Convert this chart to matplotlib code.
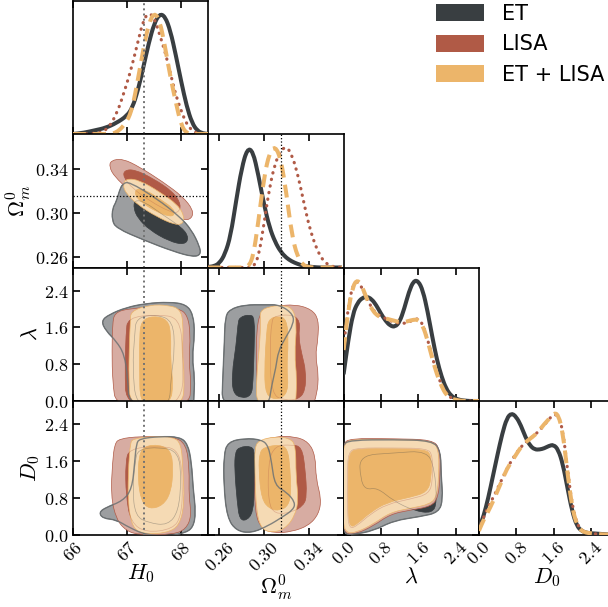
import numpy as np
import matplotlib.pyplot as plt
from matplotlib.path import Path
from matplotlib.patches import PathPatch, Patch
from matplotlib.ticker import FormatStrFormatter

plt.rc('mathtext', fontset='cm')
plt.rc('font', family='serif', serif=['DejaVu Serif'], size=13)

# ---------------- data ----------------
labels = ['ET', 'LISA', 'ET + LISA']
truth_h0 = 67.32
truth_om = 0.315

# 1D marginals (normalised to peak 1)
h0_x = [66.0, 66.2, 66.4, 66.6, 66.8, 67.0, 67.1, 67.2, 67.3, 67.4, 67.5,
        67.6, 67.7, 67.8, 67.9, 68.0, 68.1, 68.2, 68.3, 68.4, 68.5]
h0_et = [0.0, 0.01, 0.03, 0.05, 0.09, 0.15, 0.22, 0.36, 0.55, 0.75, 0.91,
         0.99, 0.97, 0.85, 0.65, 0.43, 0.23, 0.09, 0.025, 0.005, 0.0]
h0_lisa = [0.0, 0.0, 0.005, 0.02, 0.15, 0.42, 0.58, 0.76, 0.94, 1.0, 0.96,
           0.82, 0.68, 0.5, 0.32, 0.19, 0.08, 0.03, 0.005, 0.0, 0.0]
h0_etl = [0.0, 0.0, 0.0, 0.0, 0.005, 0.1, 0.22, 0.45, 0.70, 0.91, 1.0,
          0.94, 0.72, 0.47, 0.26, 0.07, 0.005, 0.0, 0.0, 0.0, 0.0]

om_x = [0.25, 0.255, 0.26, 0.265, 0.27, 0.275, 0.28, 0.285, 0.29, 0.295, 0.30,
        0.305, 0.31, 0.315, 0.32, 0.325, 0.33, 0.335, 0.34, 0.345, 0.35,
        0.355, 0.36, 0.365, 0.37]
om_et = [0.005, 0.01, 0.035, 0.11, 0.26, 0.55, 0.82, 0.98, 0.96, 0.76, 0.52,
         0.33, 0.21, 0.13, 0.08, 0.05, 0.03, 0.015, 0.008, 0.003, 0.0,
         0.0, 0.0, 0.0, 0.0]
om_lisa = [0.0, 0.0, 0.0, 0.0, 0.0, 0.0, 0.0, 0.0, 0.0, 0.08, 0.36,
           0.66, 0.86, 0.96, 1.0, 0.93, 0.78, 0.57, 0.36, 0.21, 0.1,
           0.04, 0.012, 0.003, 0.0]
om_etl = [0.0, 0.0, 0.0, 0.0, 0.0, 0.0, 0.0, 0.0, 0.07, 0.38, 0.74,
          0.95, 1.0, 0.9, 0.62, 0.27, 0.09, 0.02, 0.003, 0.0, 0.0,
          0.0, 0.0, 0.0, 0.0]

lam_x = [0.0, 0.1, 0.2, 0.3, 0.4, 0.5, 0.6, 0.7, 0.8, 0.9, 1.0, 1.1, 1.2, 1.3, 1.4,
         1.5, 1.6, 1.7, 1.8, 1.9, 2.0, 2.1, 2.2, 2.3, 2.4, 2.5, 2.6, 2.7, 2.8, 2.9]
lam_et = [0.22, 0.5, 0.72, 0.81, 0.85, 0.86, 0.84, 0.79, 0.72, 0.66, 0.62, 0.61, 0.65, 0.76, 0.9,
          0.99, 0.99, 0.91, 0.74, 0.53, 0.34, 0.2, 0.1, 0.045, 0.02, 0.008, 0.003, 0.0, 0.0, 0.0]
lam_lisa = [0.45, 0.78, 0.96, 0.99, 0.93, 0.84, 0.77, 0.72, 0.70, 0.68, 0.66, 0.65, 0.64, 0.64, 0.65,
            0.67, 0.68, 0.63, 0.51, 0.36, 0.23, 0.13, 0.06, 0.025, 0.01, 0.004, 0.0, 0.0, 0.0, 0.0]
lam_etl = [0.42, 0.75, 0.95, 1.0, 0.94, 0.84, 0.76, 0.71, 0.69, 0.68, 0.67, 0.66, 0.65, 0.65, 0.66,
           0.67, 0.67, 0.62, 0.5, 0.35, 0.22, 0.12, 0.05, 0.02, 0.01, 0.003, 0.0, 0.0, 0.0, 0.0]

d0_x = lam_x
d0_et = [0.05, 0.15, 0.3, 0.48, 0.66, 0.83, 0.96, 1.0, 0.97, 0.9, 0.8, 0.73, 0.7, 0.7, 0.71,
         0.73, 0.74, 0.7, 0.58, 0.38, 0.19, 0.07, 0.03, 0.015, 0.01, 0.008, 0.005, 0.002, 0.0, 0.0]
d0_lisa = [0.04, 0.14, 0.23, 0.3, 0.38, 0.46, 0.54, 0.61, 0.67, 0.72, 0.76, 0.79, 0.82, 0.86, 0.9,
           0.95, 0.99, 0.98, 0.86, 0.53, 0.24, 0.09, 0.035, 0.015, 0.01, 0.005, 0.002, 0.0, 0.0, 0.0]
d0_etl = [0.03, 0.12, 0.19, 0.27, 0.36, 0.45, 0.54, 0.6, 0.66, 0.72, 0.76, 0.79, 0.82, 0.86, 0.91,
          0.95, 1.0, 0.99, 0.84, 0.5, 0.22, 0.08, 0.03, 0.015, 0.01, 0.005, 0.002, 0.0, 0.0, 0.0]

# 2D contour outlines (68% inner / 95% outer)
h0_om_et_outer = [(66.92, 0.3264), (67.04, 0.328), (67.54, 0.313), (67.97, 0.2964), (68.19, 0.2843),
                  (68.34, 0.2693), (68.36, 0.2617), (68.22, 0.2596), (67.85, 0.2647), (67.32, 0.2747),
                  (66.80, 0.2858), (66.72, 0.2933), (66.73, 0.3039), (66.80, 0.3099), (66.86, 0.3204)]
h0_om_et_inner = [(67.14, 0.3114), (67.32, 0.3099), (67.66, 0.2979), (68.03, 0.2858), (68.14, 0.2768),
                  (68.06, 0.2708), (67.78, 0.2738), (67.41, 0.2843), (67.20, 0.2948), (67.12, 0.3039)]
h0_om_lisa_outer = [(66.70, 0.3475), (66.92, 0.349), (67.23, 0.3415), (67.66, 0.328), (68.03, 0.3144),
                    (68.22, 0.3024), (68.20, 0.2949), (68.06, 0.2927), (67.78, 0.2994), (67.41, 0.3084),
                    (67.04, 0.3204), (66.77, 0.3325), (66.67, 0.3415)]
h0_om_lisa_inner = [(66.95, 0.3385), (67.14, 0.3391), (67.48, 0.331), (67.85, 0.3189), (68.00, 0.3069),
                    (67.94, 0.2994), (67.78, 0.3009), (67.44, 0.3099), (67.10, 0.3219), (66.93, 0.3325)]
h0_om_etl_outer = [(66.98, 0.331), (67.23, 0.3295), (67.60, 0.3189), (67.94, 0.3069), (68.06, 0.2964),
                   (68.03, 0.2897), (67.88, 0.2888), (67.54, 0.2964), (67.20, 0.3069), (66.98, 0.3174),
                   (66.92, 0.325)]
h0_om_etl_inner = [(67.17, 0.322), (67.35, 0.3204), (67.63, 0.3114), (67.85, 0.3039), (67.88, 0.2979),
                   (67.78, 0.2964), (67.54, 0.3009), (67.29, 0.3084), (67.14, 0.3159)]

h0_lam_et_outer = [(66.52, 1.74), (66.67, 1.88), (66.98, 2.03), (67.35, 2.12), (67.78, 2.15), (68.09, 2.10),
                   (68.22, 1.88), (68.25, 1.45), (68.20, 0.94), (68.25, 0.51), (68.23, 0.0), (68.23, -0.15),
                   (67.04, -0.15), (67.01, 0.51), (66.95, 1.01), (66.80, 1.30), (66.61, 1.52)]
h0_lam_et_inner = [(67.17, 1.81), (67.54, 1.88), (67.85, 1.74), (67.88, 1.09), (67.81, 0.51), (67.78, -0.15),
                   (67.17, -0.15), (67.10, 0.72), (67.14, 1.45)]
h0_lam_lisa_outer = [(66.77, 1.92), (67.04, 2.01), (67.54, 2.04), (67.97, 2.01), (68.12, 1.85), (68.17, 1.45),
                     (68.14, 0.87), (68.18, 0.43), (68.15, -0.15), (66.80, -0.15), (66.73, 0.43),
                     (66.72, 1.09), (66.73, 1.67)]
h0_lam_lisa_inner = [(67.01, 1.81), (67.54, 1.88), (67.97, 1.81), (68.03, 1.09), (68.03, -0.15),
                     (66.98, -0.15), (66.96, 0.72), (66.98, 1.45)]
h0_lam_etl_outer = [(67.07, 1.95), (67.41, 2.09), (67.78, 2.08), (67.98, 1.99), (68.04, 1.70), (68.02, 1.09),
                    (68.06, 0.51), (68.03, -0.15), (67.06, -0.15), (67.03, 0.51), (67.04, 1.23), (67.06, 1.74)]
h0_lam_etl_inner = [(67.26, 1.74), (67.48, 1.85), (67.75, 1.77), (67.81, 1.45), (67.80, 0.87), (67.85, 0.36),
                    (67.80, -0.04), (67.48, -0.08), (67.24, -0.04), (67.23, 0.72), (67.23, 1.38)]

om_lam_et_outer = [(0.2691, 1.99), (0.2827, 2.09), (0.3008, 2.09), (0.3144, 2.09), (0.3264, 1.88),
                   (0.3264, 1.67), (0.3195, 1.38), (0.3129, 1.09), (0.3107, 0.72), (0.3068, 0.33),
                   (0.3038, -0.15), (0.2621, -0.15), (0.2630, 0.51), (0.2645, 1.30), (0.2651, 1.81)]
om_lam_et_inner = [(0.2781, 1.82), (0.2872, 1.88), (0.2917, 1.81), (0.2911, 1.09), (0.2902, 0.43),
                   (0.2887, 0.11), (0.2796, 0.06), (0.2721, 0.18), (0.2712, 0.58), (0.2751, 1.23),
                   (0.2766, 1.67)]
om_lam_lisa_outer = [(0.2978, 1.99), (0.3098, 2.06), (0.3280, 2.10), (0.3430, 1.99), (0.3491, 1.77),
                     (0.3485, 1.34), (0.3461, 0.98), (0.3491, 0.58), (0.3476, 0.14), (0.3430, -0.15),
                     (0.2947, -0.15), (0.2932, 0.72), (0.2932, 1.59)]
om_lam_lisa_inner = [(0.3098, 1.85), (0.3249, 1.88), (0.3325, 1.74), (0.3310, 1.38), (0.3340, 1.01),
                     (0.3376, 0.65), (0.3370, 0.22), (0.3310, 0.04), (0.3189, 0.01), (0.3068, 0.14),
                     (0.3053, 1.09), (0.3068, 1.74)]
om_lam_etl_outer = [(0.2962, 1.95), (0.3053, 2.06), (0.3189, 2.08), (0.3264, 1.99), (0.3295, 1.67),
                    (0.3274, 1.01), (0.3295, 0.51), (0.3286, 0.0), (0.3280, -0.15), (0.2932, -0.15),
                    (0.2932, 0.51), (0.2962, 1.23), (0.2971, 1.74)]
om_lam_etl_inner = [(0.3038, 1.77), (0.3129, 1.85), (0.3204, 1.77), (0.3219, 1.30), (0.3204, 0.72),
                    (0.3219, 0.29), (0.3174, 0.07), (0.3068, 0.04), (0.3008, 0.22), (0.3008, 0.87),
                    (0.3023, 1.45)]

h0_d0_et_outer = [(67.23, 2.08), (67.60, 2.13), (67.97, 2.12), (68.12, 1.97), (68.19, 1.57), (68.22, 0.99),
                  (68.27, 0.48), (68.22, 0.15), (68.06, 0.03), (67.78, -0.03), (67.35, -0.01), (67.04, 0.15),
                  (66.80, 0.32), (66.55, 0.35), (66.48, 0.48), (66.61, 0.59), (66.92, 0.73), (67.09, 0.99),
                  (67.14, 1.57), (67.17, 1.97)]
h0_d0_et_inner = [(67.20, 1.85), (67.60, 1.90), (67.95, 1.80), (68.00, 1.20), (67.95, 0.50), (67.75, 0.20),
                  (67.40, 0.25), (67.15, 0.40), (67.10, 1.00), (67.15, 1.60)]
h0_d0_lisa_outer = [(66.86, 2.08), (67.23, 2.13), (67.85, 2.13), (68.09, 1.97), (68.15, 1.42), (68.14, 0.84),
                    (68.19, 0.41), (68.09, 0.12), (67.85, 0.0), (67.23, -0.01), (66.98, 0.08), (66.80, 0.33),
                    (66.70, 0.84), (66.73, 1.57), (66.77, 1.97)]
h0_d0_lisa_inner = [(67.04, 1.86), (67.54, 1.92), (67.97, 1.86), (68.03, 1.06), (68.00, 0.41), (67.85, 0.12),
                    (67.35, 0.04), (67.07, 0.26), (66.98, 0.84), (66.97, 1.57)]
h0_d0_etl_outer = [(67.10, 2.08), (67.48, 2.13), (67.85, 2.12), (68.00, 1.97), (68.03, 1.42), (68.06, 0.70),
                   (67.97, 0.19), (67.72, 0.03), (67.32, 0.01), (67.10, 0.13), (67.01, 0.70), (67.03, 1.57),
                   (67.06, 1.97)]
h0_d0_etl_inner = [(67.32, 1.92), (67.60, 1.95), (67.81, 1.82), (67.85, 1.42), (67.81, 0.92), (67.66, 0.63),
                   (67.41, 0.55), (67.26, 0.73), (67.20, 1.21), (67.22, 1.72)]

om_d0_et_outer = [(0.2675, 2.01), (0.2827, 2.09), (0.2978, 2.06), (0.3038, 1.93), (0.3068, 1.57),
                  (0.3098, 1.06), (0.3204, 0.92), (0.3280, 0.70), (0.3264, 0.54), (0.3159, 0.37),
                  (0.3038, 0.19), (0.2887, 0.03), (0.2751, 0.08), (0.2669, 0.37), (0.2639, 1.06),
                  (0.2639, 1.72)]
om_d0_et_inner = [(0.2781, 1.90), (0.2887, 1.92), (0.2917, 1.79), (0.2917, 1.06), (0.2902, 0.48),
                  (0.2842, 0.30), (0.2781, 0.33), (0.2760, 0.70), (0.2736, 1.42), (0.2742, 1.79)]
om_d0_lisa_outer = [(0.2947, 2.01), (0.3098, 2.13), (0.3280, 2.13), (0.3400, 2.01), (0.3461, 1.72),
                    (0.3467, 1.21), (0.3515, 0.77), (0.3491, 0.44), (0.3400, 0.19), (0.3249, 0.06),
                    (0.3098, 0.03), (0.2978, 0.12), (0.2917, 0.48), (0.2917, 1.42)]
om_d0_lisa_inner = [(0.3098, 1.93), (0.3249, 1.95), (0.3340, 1.90), (0.3370, 1.42), (0.3385, 0.84),
                    (0.3355, 0.63), (0.3249, 0.48), (0.3098, 0.44), (0.3038, 0.70), (0.3038, 1.57)]
om_d0_etl_outer = [(0.2947, 2.04), (0.3098, 2.13), (0.3234, 2.09), (0.3286, 1.93), (0.3286, 1.28),
                   (0.3310, 0.77), (0.3280, 0.41), (0.3189, 0.12), (0.3068, 0.04), (0.2978, 0.12),
                   (0.2932, 0.48), (0.2917, 1.42), (0.2917, 1.86)]
om_d0_etl_inner = [(0.3008, 1.90), (0.3144, 1.95), (0.3213, 1.86), (0.3234, 1.42), (0.3243, 0.92),
                   (0.3219, 0.63), (0.3144, 0.52), (0.3053, 0.55), (0.2978, 0.77), (0.2953, 1.42),
                   (0.2962, 1.79)]

lam_d0_et_outer = [(-0.03, 1.95), (0.15, 2.05), (1.07, 2.06), (1.90, 2.04), (2.08, 1.82), (2.09, 1.28),
                   (2.13, 0.77), (2.04, 0.48), (1.65, 0.39), (1.07, 0.30), (0.64, 0.08), (0.21, 0.0),
                   (0.02, 0.0), (-0.04, 0.3), (-0.04, 1.5)]
lam_d0_et_inner = [(0.34, 1.72), (1.07, 1.77), (1.79, 1.82), (1.95, 1.42), (2.00, 0.70), (1.90, 0.46),
                   (1.50, 0.52), (1.07, 0.73), (0.72, 1.02), (0.47, 0.97), (0.36, 1.21)]
lam_d0_lisa_outer = [(-0.02, 1.97), (0.15, 2.09), (1.07, 2.08), (1.90, 2.06), (2.07, 1.86), (2.07, 1.28),
                     (2.03, 0.81), (1.88, 0.61), (1.43, 0.53), (1.00, 0.44), (0.64, 0.19), (0.29, 0.02),
                     (0.03, 0.0), (-0.04, 0.3), (-0.04, 1.5)]
lam_d0_lisa_inner = [(0.10, 1.80), (0.30, 1.88), (1.07, 1.88), (1.79, 1.87), (1.91, 1.72), (1.91, 1.17),
                     (1.83, 0.88), (1.43, 0.77), (0.93, 0.66), (0.57, 0.44), (0.29, 0.19), (0.12, 0.12),
                     (0.08, 0.5), (0.08, 1.3)]
lam_d0_etl_outer = [(0.0, 1.95), (0.15, 2.07), (1.07, 2.06), (1.88, 2.04), (2.04, 1.86), (2.04, 1.28),
                    (2.00, 0.84), (1.86, 0.66), (1.43, 0.57), (1.00, 0.48), (0.64, 0.23), (0.29, 0.05),
                    (0.05, 0.03), (-0.02, 0.3), (-0.02, 1.5)]
lam_d0_etl_inner = [(0.12, 1.78), (0.30, 1.86), (1.07, 1.86), (1.75, 1.85), (1.88, 1.72), (1.88, 1.21),
                    (1.79, 0.92), (1.43, 0.81), (0.93, 0.70), (0.57, 0.48), (0.29, 0.23), (0.14, 0.15),
                    (0.10, 0.5), (0.10, 1.3)]

# ---------------- style ----------------
colors = ['#393e41', '#b05a46', '#ecb56a']
light = ['#9c9ea0', '#d7aca2', '#f5dab4']
line_styles = ['-', (0, (0.1, 2.0)), (0, (3.2, 1.8))]
line_widths = [2.9, 2.3, 2.9]

names = ['H0', 'Om', 'lam', 'D0']
axis_labels = [r'$H_0$', r'$\Omega_m^0$', r'$\lambda$', r'$D_0$']
lims = [(66.0, 68.5), (0.25, 0.3715), (0.0, 2.9), (0.0, 2.9)]
ticks = [[66, 67, 68], [0.26, 0.30, 0.34], [0.0, 0.8, 1.6, 2.4], [0.0, 0.8, 1.6, 2.4]]
fmts = [r'$%d$', r'$%.2f$', r'$%.1f$', r'$%.1f$']

marginals = [
    (h0_x, [h0_et, h0_lisa, h0_etl]),
    (om_x, [om_et, om_lisa, om_etl]),
    (lam_x, [lam_et, lam_lisa, lam_etl]),
    (d0_x, [d0_et, d0_lisa, d0_etl]),
]
contours = {
    (1, 0): [(h0_om_et_outer, h0_om_et_inner), (h0_om_lisa_outer, h0_om_lisa_inner),
             (h0_om_etl_outer, h0_om_etl_inner)],
    (2, 0): [(h0_lam_et_outer, h0_lam_et_inner), (h0_lam_lisa_outer, h0_lam_lisa_inner),
             (h0_lam_etl_outer, h0_lam_etl_inner)],
    (2, 1): [(om_lam_et_outer, om_lam_et_inner), (om_lam_lisa_outer, om_lam_lisa_inner),
             (om_lam_etl_outer, om_lam_etl_inner)],
    (3, 0): [(h0_d0_et_outer, h0_d0_et_inner), (h0_d0_lisa_outer, h0_d0_lisa_inner),
             (h0_d0_etl_outer, h0_d0_etl_inner)],
    (3, 1): [(om_d0_et_outer, om_d0_et_inner), (om_d0_lisa_outer, om_d0_lisa_inner),
             (om_d0_etl_outer, om_d0_etl_inner)],
    (3, 2): [(lam_d0_et_outer, lam_d0_et_inner), (lam_d0_lisa_outer, lam_d0_lisa_inner),
             (lam_d0_etl_outer, lam_d0_etl_inner)],
}


def smooth_closed(pts):
    p = np.asarray(pts, float)
    mid = 0.5 * (p + np.roll(p, -1, axis=0))
    verts, codes = [mid[-1]], [Path.MOVETO]
    for i in range(len(p)):
        verts += [p[i], mid[i]]
        codes += [Path.CURVE3, Path.CURVE3]
    verts.append(mid[-1])
    codes.append(Path.CLOSEPOLY)
    return Path(verts, codes)


def smooth_open(x, y):
    p = np.column_stack([x, y]).astype(float)
    mid = 0.5 * (p[:-1] + p[1:])
    verts, codes = [p[0], mid[0]], [Path.MOVETO, Path.LINETO]
    for i in range(1, len(p) - 1):
        verts += [p[i], mid[i]]
        codes += [Path.CURVE3, Path.CURVE3]
    verts.append(p[-1])
    codes.append(Path.LINETO)
    return Path(verts, codes)


W, H = 608, 607
left0, colw = 73.0, 135.3
top0, rowh = 0.5, 133.5


def panel_rect(r, c):
    x = left0 + c * colw
    y = top0 + (r + 1) * rowh
    return [x / W, 1 - y / H, colw / W, rowh / H]


fig = plt.figure(figsize=(W / 100, H / 100), dpi=100)

for r in range(4):
    for c in range(r + 1):
        ax = fig.add_axes(panel_rect(r, c))
        ax.set_xlim(lims[c])
        ax.set_xticks(ticks[c])
        ax.xaxis.set_major_formatter(FormatStrFormatter(fmts[c]))
        if r == c:
            xs, ys = marginals[c]
            for k in range(3):
                patch = PathPatch(smooth_open(xs, ys[k]), fill=False, edgecolor=colors[k],
                                  lw=line_widths[k], linestyle=line_styles[k],
                                  capstyle='round' if k == 1 else 'butt', zorder=3 + k)
                ax.add_patch(patch)
            ax.set_ylim(0, 1.1)
            ax.set_yticks([])
        else:
            ax.set_ylim(lims[r])
            ax.set_yticks(ticks[r])
            ax.yaxis.set_major_formatter(FormatStrFormatter(fmts[r]))
            for k, (outer, inner) in enumerate(contours[(r, c)]):
                ax.add_patch(PathPatch(smooth_closed(outer), facecolor=light[k],
                                       edgecolor=colors[k], lw=0.5, zorder=1 + 2 * k))
                ax.add_patch(PathPatch(smooth_closed(inner), facecolor=colors[k],
                                       edgecolor=colors[k], lw=0.5, zorder=2 + 2 * k))
            # faint outlines drawn over the fills
            for k, (outer, inner) in enumerate(contours[(r, c)]):
                ax.add_patch(PathPatch(smooth_closed(inner), fill=False, edgecolor=colors[k],
                                       lw=0.5, alpha=0.35, zorder=8))
            et_outer = contours[(r, c)][0][0]
            ax.add_patch(PathPatch(smooth_closed(et_outer), fill=False, edgecolor='#6d7274',
                                   lw=1.0, alpha=0.85, zorder=9))
            if c == 0 and r == 1:
                ax.axhline(truth_om, color='k', ls=':', lw=0.9, zorder=10)
        if c == 0:
            ax.axvline(truth_h0, color='0.45', ls=':', lw=1.4, zorder=10)
        if c == 1:
            ax.axvline(truth_om, color='k', ls=':', lw=0.9, zorder=10)

        ax.tick_params(direction='in', top=True, right=(r != c), length=5, width=1.2,
                       labelsize=13)
        for s in ax.spines.values():
            s.set_linewidth(1.2)
        if r == 3:
            ax.tick_params(axis='x', labelrotation=45, pad=3)
            ax.set_xlabel(axis_labels[c], fontsize=16, labelpad=-2)
        else:
            ax.tick_params(labelbottom=False)
        if c == 0 and r > 0:
            ax.set_ylabel(axis_labels[r], fontsize=16, labelpad=1)
        else:
            ax.tick_params(labelleft=False)

handles = [Patch(facecolor=col, edgecolor='none') for col in colors]
fig.legend(handles, labels, loc='upper right', bbox_to_anchor=(604 / W, 1 - 4 / H),
           frameon=False, prop={'family': 'DejaVu Sans', 'size': 15},
           handlelength=2.3, handleheight=0.85, labelspacing=0.5, handletextpad=0.85,
           borderaxespad=0, borderpad=0)

fig.savefig('out.png', dpi=100)
